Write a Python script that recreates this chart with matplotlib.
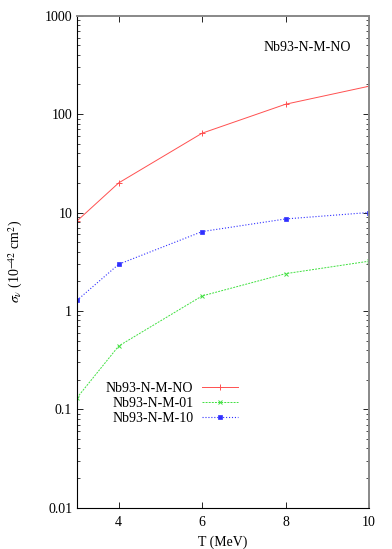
import matplotlib
matplotlib.use('Agg')
import matplotlib.pyplot as plt
from matplotlib.ticker import FixedLocator, LogLocator, NullFormatter

plt.rcParams['font.family'] = ['Liberation Serif', 'DejaVu Serif']
plt.rcParams['mathtext.fontset'] = 'stix'

# data
T = [3, 4, 6, 8, 10]
sig_NO = [8.2, 20.0, 64.0, 126.0, 192.0]
sig_01 = [0.131, 0.44, 1.42, 2.39, 3.2]
sig_10 = [1.28, 2.98, 6.4, 8.6, 10.0]

fig = plt.figure(figsize=(3.92, 5.49), dpi=100)
ax = fig.add_axes([0.1964, 0.0752, 0.7449, 0.8962])

ax.plot(T, sig_NO, '-', color='#ff5050', lw=0.7, marker='+', ms=4, mew=0.7,
        label='Nb93-N-M-NO')
ax.plot(T, sig_01, '--', color='#40e040', lw=0.7, dashes=(2, 1.2), marker='x', ms=3,
        mew=0.7, label='Nb93-N-M-01')
ax.plot(T, sig_10, ':', color='#3030ff', lw=0.8, marker='s', ms=2.2, mew=0.5,
        label='Nb93-N-M-10')

ax.set_yscale('log')
ax.set_xlim(3, 10)
ax.set_ylim(0.01, 1000)
ax.xaxis.set_major_locator(FixedLocator([4, 6, 8, 10]))
ax.yaxis.set_major_locator(FixedLocator([0.01, 0.1, 1, 10, 100, 1000]))
ax.set_yticklabels(['0.01', '0.1', '1', '10', '100', '1000'])
ax.yaxis.set_minor_locator(LogLocator(base=10, subs=range(2, 10), numticks=20))
ax.yaxis.set_minor_formatter(NullFormatter())
ax.tick_params(which='both', direction='in', top=True, right=True, labelsize=10)
ax.tick_params(which='major', length=4, width=0.6)
ax.tick_params(axis='x', which='major', pad=6)
ax.tick_params(which='minor', length=2, width=0.5)

for s in ['left', 'bottom']:
    ax.spines[s].set_color('black')
    ax.spines[s].set_linewidth(0.8)
for s in ['top', 'right']:
    ax.spines[s].set_color('#888888')
    ax.spines[s].set_linewidth(1.4)

ax.set_xlabel('T (MeV)', fontsize=10, labelpad=5)
ax.set_ylabel(r'$\sigma_\nu$ (10$^{-42}$ cm$^2$)', fontsize=10, labelpad=14)

ax.text(0.938, 0.935, 'Nb93-N-M-NO', transform=ax.transAxes, ha='right',
        va='center', fontsize=10)

leg = ax.legend(loc='upper left', bbox_to_anchor=(0.075, 0.27), frameon=False,
                fontsize=10, markerfirst=False, handlelength=2.6,
                handletextpad=0.6, labelspacing=0.15, borderpad=0)
for t in leg.get_texts():
    t.set_ha('right')
    t.set_position((0, 0))

fig.savefig('out.png', dpi=100)
